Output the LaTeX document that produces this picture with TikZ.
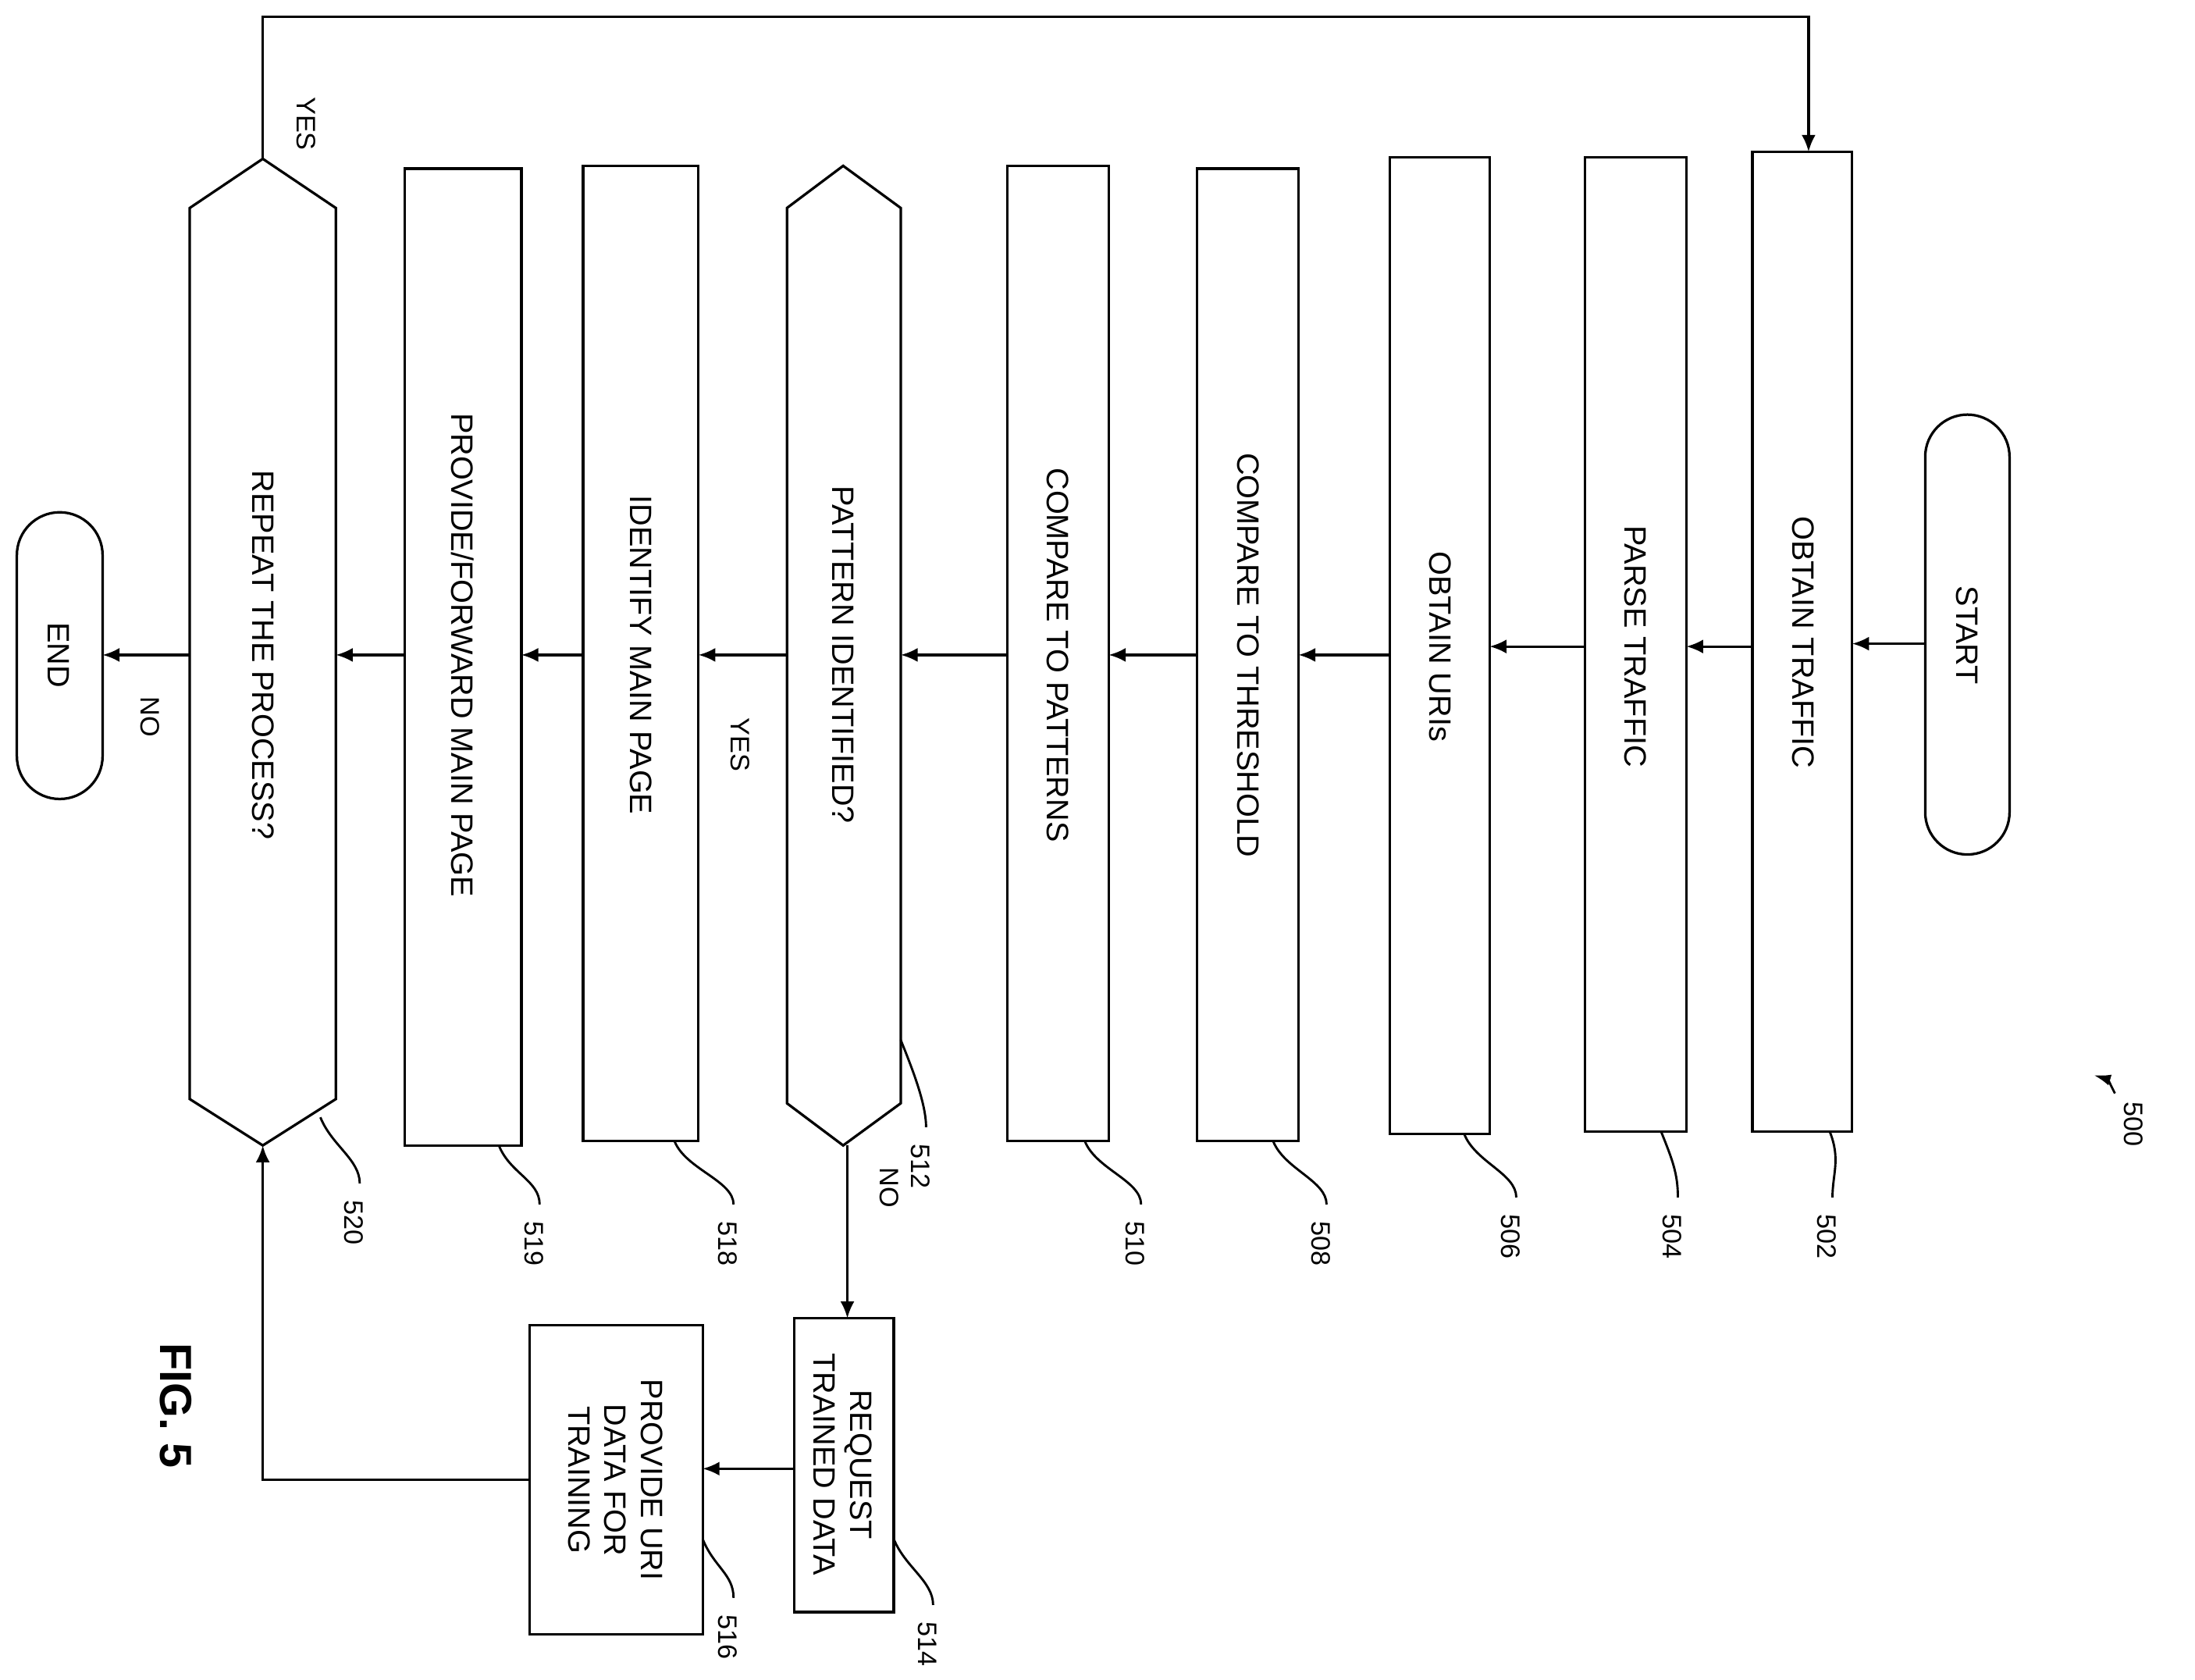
\documentclass[tikz,border=0pt]{standalone}
\usepackage{fontspec}
\setmainfont{Liberation Sans}
\usetikzlibrary{arrows.meta}
\begin{document}
\begin{tikzpicture}[x=0.5pt,y=-0.5pt,
 box/.style={draw,line width=0.9pt},
 txt/.style={rotate=-90,font=\fontsize{11}{13}\selectfont,align=center},
 lab/.style={rotate=-90,font=\fontsize{9.5}{11}\selectfont},
 arr/.style={-{Latex[length=6pt,width=5pt]},line width=0.9pt},
 ld/.style={line width=0.8pt}]
\useasboundingbox (0,0) rectangle (1562,1195);
% START
\draw[box] (1370,325) arc (180:360:30) -- (1430,578) arc (0:180:30) -- cycle;
\node[txt] (start) at (1400,452) {START};
% boxes
\draw[box] (1247,108) rectangle (1318,805); \node[txt] at (1283,457) {OBTAIN TRAFFIC};
\draw[box] (1128,112) rectangle (1200,805); \node[txt] at (1164,460) {PARSE TRAFFIC};
\draw[box] (989,112) rectangle (1060,807); \node[txt] at (1025,460) {OBTAIN URIs};
\draw[box] (852,120) rectangle (924,812); \node[txt] at (888,466) {COMPARE TO THRESHOLD};
\draw[box] (717,118) rectangle (789,812); \node[txt] at (753,466) {COMPARE TO PATTERNS};
\draw[box] (600,118) -- (641,148) -- (641,785) -- (600,815) -- (560,785) -- (560,148) -- cycle;
\node[txt] at (600,466) {PATTERN IDENTIFIED?};
\draw[box] (415,118) rectangle (497,812); \node[txt] at (456,466) {IDENTIFY MAIN PAGE};
\draw[box] (288,120) rectangle (371,815); \node[txt] at (329,466) {PROVIDE/FORWARD MAIN PAGE};
\draw[box] (187,113) -- (239,148) -- (239,782) -- (187,815) -- (135,782) -- (135,148) -- cycle;
\node[txt] at (187,466) {REPEAT THE PROCESS?};
\draw[box] (12,395) arc (180:360:30.5) -- (73,538) arc (0:180:30.5) -- cycle;
\node[txt] at (42,466) {END};
\draw[box] (565,938) rectangle (636,1147); \node[txt] at (600,1042) {REQUEST\\TRAINED DATA};
\draw[box] (377,943) rectangle (500,1163); \node[txt] at (438,1053) {PROVIDE URI\\DATA FOR\\TRAINING};
% arrows
\draw[arr] (1370,458) -- (1318,458);
\draw[arr] (1247,460) -- (1200,460);
\draw[arr] (1128,460) -- (1060,460);
\draw[arr] (989,466) -- (924,466);
\draw[arr] (852,466) -- (789,466);
\draw[arr] (717,466) -- (641,466);
\draw[arr] (560,466) -- (497,466); \node[lab] at (527,530) {YES};
\draw[arr] (415,466) -- (371,466);
\draw[arr] (288,466) -- (239,466);
\draw[arr] (135,466) -- (73,466); \node[lab] at (107,510) {NO};
\draw[arr] (603,815) -- (603,938); \node[lab] at (633,845) {NO};
\draw[arr] (565,1045) -- (500,1045);
\draw[arr] (377,1053) -- (187,1053) -- (187,815);
\draw[arr] (187,113) -- (187,12) -- (1287,12) -- (1287,108);
\node[lab] at (218,88) {YES};
% reference labels
\foreach \bx/\by/\lx/\ly/\t in {1302/805/1300/880/502,1182/805/1190/880/504,1042/807/1075/880/506,906/812/940/885/508,772/812/808/885/510,641/740/655/830/512,480/812/518/885/518,355/815/380/885/519,228/795/252/870/520,636/1095/660/1170/514,500/1095/518/1165/516}{
  \draw[ld] (\bx,\by) .. controls (\bx+8,\by+20) and (\lx+4,\ly-45) .. (\lx+4,\ly-28);
  \node[lab] at (\lx,\ly) {\t};
}
\node[lab] at (1518,800) {500};
\draw[-{Latex[length=6pt,width=4pt]},line width=0.8pt] (1505,778) .. controls (1500,768) .. (1490,765);
\node[rotate=-90,font=\bfseries\fontsize{16}{18}\selectfont] at (125,1000) {FIG. 5};
\end{tikzpicture}
\end{document}
